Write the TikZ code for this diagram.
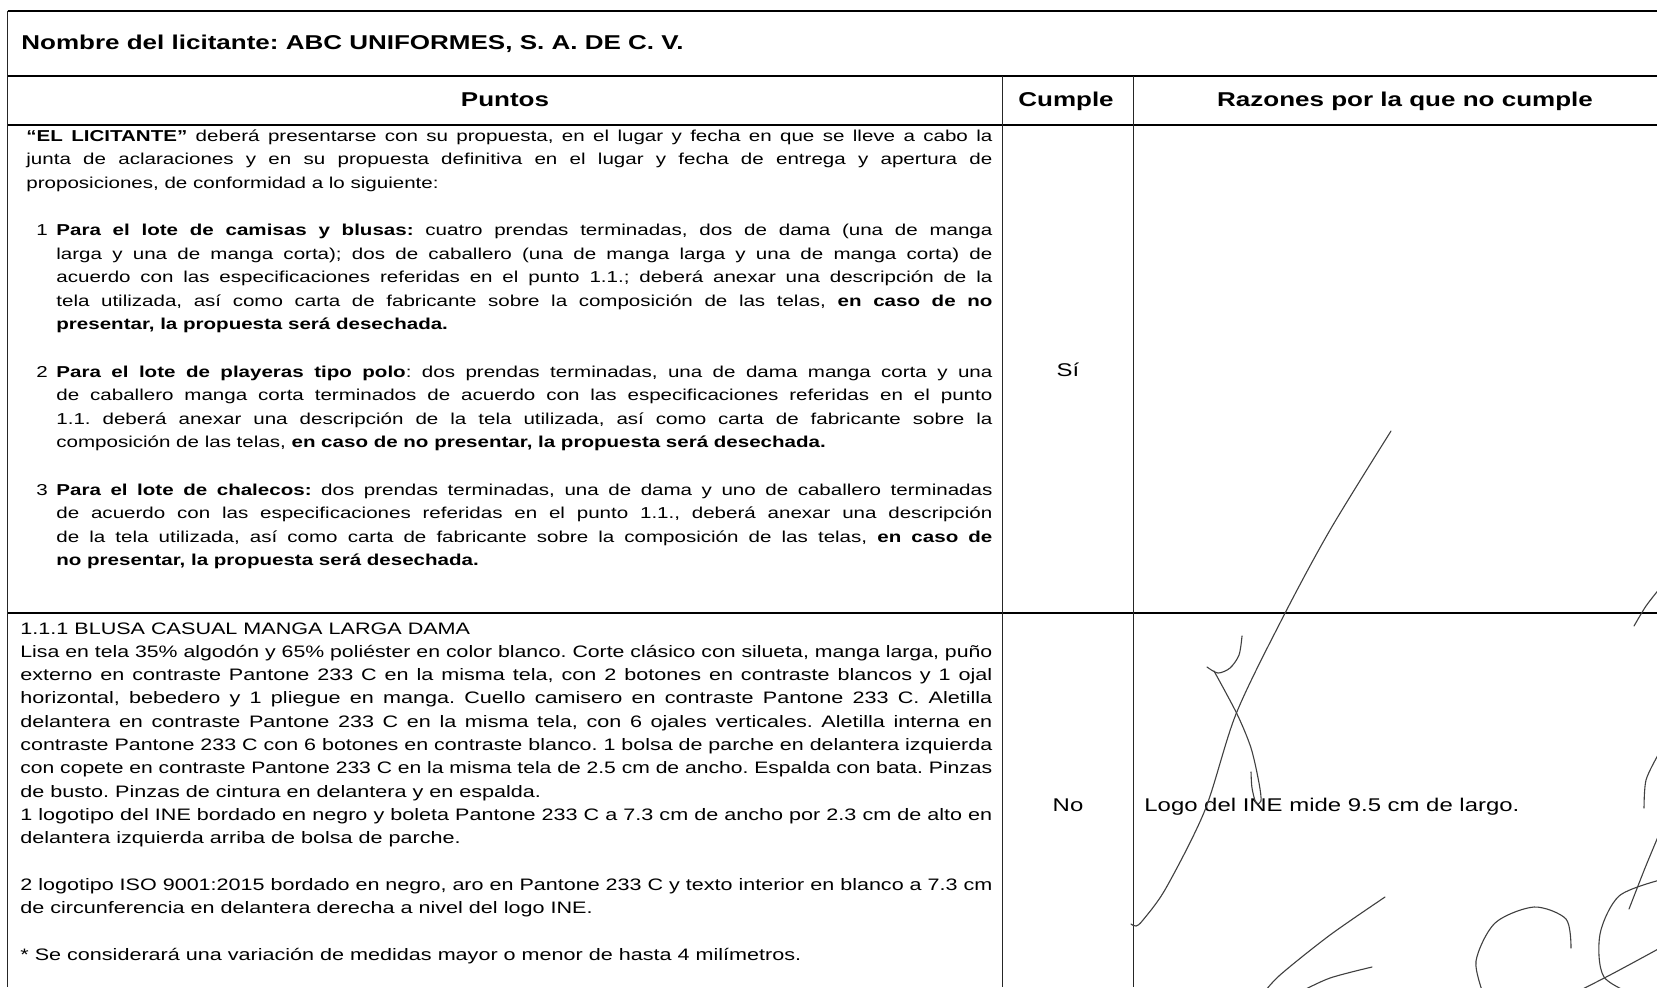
\documentclass[tikz,border=0pt]{standalone}
\usepackage{fontspec}
\setmainfont{Liberation Sans}[FakeStretch=1.3]
\usepackage{graphicx}
\frenchspacing
\newsavebox\jbox
\newcommand\JL[2]{\sbox\jbox{#2}\ifdim\wd\jbox>#1\relax\resizebox{#1}{\height}{\usebox\jbox}\else\makebox[#1][s]{#2}\fi}
\newcommand\JA[1]{\JL{486pt}{#1}}
\newcommand\JB[1]{\JL{468pt}{#1}}
\tikzset{
  body/.style={anchor=base west, inner sep=0pt, font=\fontsize{7.9}{9.5}\selectfont\frenchspacing},
  bodyb/.style={anchor=base west, inner sep=0pt, font=\fontsize{8.3}{10}\selectfont\frenchspacing},
  num/.style={anchor=base west, inner sep=0pt, font=\fontsize{7.9}{9.5}\selectfont},
  ttl/.style={anchor=base west, inner sep=0pt, font=\fontsize{10}{12}\selectfont\bfseries\frenchspacing},
  head/.style={anchor=base, inner sep=0pt, font=\fontsize{10}{12}\selectfont\bfseries},
  big/.style={anchor=base, inner sep=0pt, font=\fontsize{9.2}{11}\selectfont},
  bigl/.style={anchor=base west, inner sep=0pt, font=\fontsize{9.2}{11}\selectfont},
  hrule/.style={line width=1pt, black},
  vrule/.style={line width=0.5pt, black!85},
  pen/.style={line width=0.55pt, black!75, line cap=round, line join=round}
}
\begin{document}
\begin{tikzpicture}[x=0.5pt, y=-0.5pt]
\useasboundingbox (0,0) rectangle (1657,987);
\fill[white] (0,0) rectangle (1657,987);
\begin{scope}
\clip (0,0) rectangle (1657,987);
% table rules
\coordinate (tl) at (7.5,10.5);
\coordinate (tr) at (1657,10.5);
\coordinate (h1l) at (7.5,76);   \coordinate (h1r) at (1657,76);
\coordinate (h2l) at (7.5,125);  \coordinate (h2r) at (1657,125);
\coordinate (h3l) at (7.5,613);  \coordinate (h3r) at (1657,613);
\coordinate (bl) at (7.5,987);
\coordinate (c1t) at (1002,76);  \coordinate (c1b) at (1002,987);
\coordinate (c2t) at (1133,76);  \coordinate (c2b) at (1133,987);
\draw[hrule] (tl) -- (tr);
\draw[hrule] (h1l) -- (h1r);
\draw[hrule] (h2l) -- (h2r);
\draw[hrule] (h3l) -- (h3r);
\draw[vrule] (tl) -- (bl);
\draw[vrule] (c1t) -- (c1b);
\draw[vrule] (c2t) -- (c2b);

% title and headers
\node[ttl] (title) at (21,49) {Nombre del licitante: ABC UNIFORMES, S. A. DE C. V.};
\node[head] (hp) at (505,106) {Puntos};
\node[head] (hc) at (1066,106) {Cumple};
\node[head] (hr) at (1405,106) {Razones por la que no cumple};

% row 1
\node[body] (a0) at (26,141) {\JL{483pt}{\textbf{“EL LICITANTE”} deberá presentarse con su propuesta, en el lugar y fecha en que se lleve a cabo la}};
\node[body] (a1) at (26,164.6) {\JL{483pt}{junta de aclaraciones y en su propuesta definitiva en el lugar y fecha de entrega y apertura de}};
\node[body] (a2) at (26,188.2) {proposiciones, de conformidad a lo siguiente:};

\node[num] (n1) at (36,235.4) {1};
\node[body] (b0) at (56,235.4) {\JB{\textbf{Para el lote de camisas y blusas:} cuatro prendas terminadas, dos de dama (una de manga}};
\node[body] (b1) at (56,259) {\JB{larga y una de manga corta); dos de caballero (una de manga larga y una de manga corta) de}};
\node[body] (b2) at (56,282.6) {\JB{acuerdo con las especificaciones referidas en el punto 1.1.; deberá anexar una descripción de la}};
\node[body] (b3) at (56,306.2) {\JB{tela utilizada, así como carta de fabricante sobre la composición de las telas, \textbf{en caso de no}}};
\node[body] (b4) at (56,329.8) {\textbf{presentar, la propuesta será desechada.}};

\node[num] (n2) at (36,377) {2};
\node[body] (c0) at (56,377) {\JB{\textbf{Para el lote de playeras tipo polo}: dos prendas terminadas, una de dama manga corta y una}};
\node[body] (c1) at (56,400.6) {\JB{de caballero manga corta terminados de acuerdo con las especificaciones referidas en el punto}};
\node[body] (c2) at (56,424.2) {\JB{1.1. deberá anexar una descripción de la tela utilizada, así como carta de fabricante sobre la}};
\node[body] (c3) at (56,447.8) {composición de las telas, \textbf{en caso de no presentar, la propuesta será desechada.}};

\node[num] (n3) at (36,495) {3};
\node[body] (d0) at (56,495) {\JB{\textbf{Para el lote de chalecos:} dos prendas terminadas, una de dama y uno de caballero terminadas}};
\node[body] (d1) at (56,518.6) {\JB{de acuerdo con las especificaciones referidas en el punto 1.1., deberá anexar una descripción}};
\node[body] (d2) at (56,542.2) {\JB{de la tela utilizada, así como carta de fabricante sobre la composición de las telas, \textbf{en caso de}}};
\node[body] (d3) at (56,565.8) {\textbf{no presentar, la propuesta será desechada.}};

\node[big] (si) at (1068,376) {Sí};

% row 2
\node[bodyb] (e0) at (20,634) {1.1.1 BLUSA CASUAL MANGA LARGA DAMA};
\node[bodyb] (e1) at (20,657.3) {\JA{Lisa en tela 35\% algodón y 65\% poliéster en color blanco. Corte clásico con silueta, manga larga, puño}};
\node[bodyb] (e2) at (20,680.6) {\JA{externo en contraste Pantone 233 C en la misma tela, con 2 botones en contraste blancos y 1 ojal}};
\node[bodyb] (e3) at (20,703.9) {\JA{horizontal, bebedero y 1 pliegue en manga. Cuello camisero en contraste Pantone 233 C. Aletilla}};
\node[bodyb] (e4) at (20,727.2) {\JA{delantera en contraste Pantone 233 C en la misma tela, con 6 ojales verticales. Aletilla interna en}};
\node[bodyb] (e5) at (20,750.5) {\JA{contraste Pantone 233 C con 6 botones en contraste blanco. 1 bolsa de parche en delantera izquierda}};
\node[bodyb] (e6) at (20,773.8) {\JA{con copete en contraste Pantone 233 C en la misma tela de 2.5 cm de ancho. Espalda con bata. Pinzas}};
\node[bodyb] (e7) at (20,797.1) {de busto. Pinzas de cintura en delantera y en espalda.};
\node[bodyb] (e8) at (20,820.4) {\JA{1 logotipo del INE bordado en negro y boleta Pantone 233 C a 7.3 cm de ancho por 2.3 cm de alto en}};
\node[bodyb] (e9) at (20,843.7) {delantera izquierda arriba de bolsa de parche.};
\node[bodyb] (e10) at (20,890.3) {\JA{2 logotipo ISO 9001:2015 bordado en negro, aro en Pantone 233 C y texto interior en blanco a 7.3 cm}};
\node[bodyb] (e11) at (20,913.6) {de circunferencia en delantera derecha a nivel del logo INE.};
\node[bodyb] (e12) at (20,960.2) {* Se considerará una variación de medidas mayor o menor de hasta 4 milímetros.};

\node[big] (no) at (1068,811) {No};
\node[bigl] (why) at (1144,811) {Logo del INE mide 9.5 cm de largo.};

% signature strokes
\draw[pen] plot[smooth] coordinates {(1391,431) (1330,530) (1282,619) (1236,714) (1205,810) (1166,888) (1143,920) (1136,926) (1131,924)};
\draw[pen] plot[smooth] coordinates {(1242,636) (1239,655) (1230,668) (1218,673) (1207,667)};
\draw[pen] plot[smooth] coordinates {(1214,671) (1237,714) (1251,748) (1259,783) (1261,801) (1256,803) (1252,788) (1251,772)};
\draw[pen] plot[smooth] coordinates {(1385,897) (1330,935) (1280,975) (1262,995)};
\draw[pen] plot[smooth] coordinates {(1300,992) (1330,978) (1372,967)};
\draw[pen] plot[smooth] coordinates {(1571,948) (1566,919) (1534,907) (1495,923) (1476,961) (1484,996)};
\draw[pen] plot[smooth] coordinates {(1660,880) (1619,896) (1600,934) (1604,977) (1642,998)};
\draw[pen] plot[smooth] coordinates {(1660,948) (1610,975) (1553,1004)};
\draw[pen] plot[smooth] coordinates {(1658,755) (1646,780) (1644,808)};
\draw[pen] plot[smooth] coordinates {(1660,832) (1645,868) (1629,909)};
\draw[pen] plot[smooth] coordinates {(1660,588) (1646,606) (1634,626)};
\end{scope}
\end{tikzpicture}
\end{document}
